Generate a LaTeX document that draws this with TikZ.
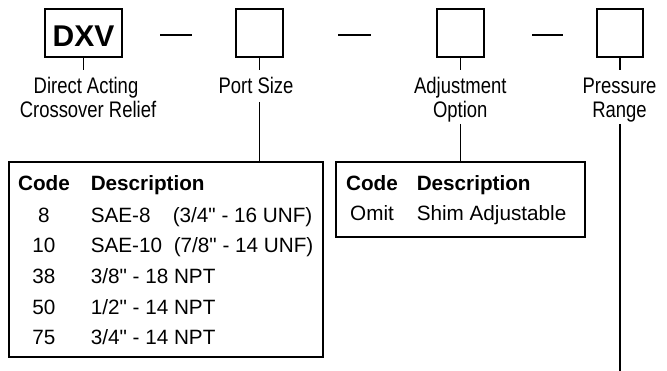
\documentclass[tikz,border=0pt]{standalone}
\usepackage{fontspec}
\setmainfont{Liberation Sans}[Ligatures=TeXOff]
\newfontfamily\condfont[FakeStretch=0.82]{Liberation Sans}
\begin{document}
\begin{tikzpicture}[x=1pt,y=-1pt,line width=1.5pt,
  codebox/.style={draw,line width=1.6pt,minimum width=47pt,minimum height=48pt,inner sep=0pt},
  lbl/.style={font=\condfont\fontsize{22.5}{27}\selectfont,anchor=base,inner sep=0pt},
  tbl/.style={draw,line width=1.5pt,inner sep=0pt},
  th/.style={font=\bfseries\fontsize{20.7}{24}\selectfont,inner sep=0pt,anchor=base},
  thl/.style={th,anchor=base west},
  td/.style={font=\fontsize{20.7}{24}\selectfont,inner sep=0pt,anchor=base},
  tdl/.style={td,anchor=base west}]
\useasboundingbox (0,0) rectangle (667,371);
% part boxes
\node[codebox,minimum width=77pt,font=\bfseries\fontsize{30}{34}\selectfont,text height=28pt,text depth=0pt] (dxv) at (83.5,33) {DXV};
\node[codebox] (ps) at (259.5,33) {};
\node[codebox] (adj) at (460.5,33) {};
\node[codebox,minimum width=46pt] (pr) at (620,33) {};
% dashes
\draw (160,35) -- (192,35);
\draw (338,35) -- (371,35);
\draw (532,35) -- (563,35);
% labels
\node[lbl] (l1a) at (86,93.5) {Direct Acting};
\node[lbl] (l1b) at (88,118) {Crossover Relief};
\node[lbl] (l2) at (256,93.5) {Port Size};
\node[lbl] (l3a) at (460.3,93.5) {Adjustment};
\node[lbl] (l3b) at (460.3,118) {Option};
\node[lbl] (l4a) at (619.5,93.5) {Pressure};
\node[lbl] (l4b) at (619.5,118) {Range};
% tables
\node[tbl,minimum width=314pt,minimum height=195pt] (t1) at (166,259.5) {};
\node[tbl,minimum width=249pt,minimum height=75pt] (t2) at (460.5,199.5) {};
\node[th] (t1h1) at (44,191) {Code};
\node[thl] (t1h2) at (90,191) {Description};
\node[td] (r1c) at (44,223) {8};
\node[tdl] (r1d) at (90,223) {SAE-8};
\node[tdl] (r1e) at (172,223) {(3/4" - 16 UNF)};
\node[td] (r2c) at (44,253) {10};
\node[tdl] (r2d) at (90,253) {SAE-10};
\node[tdl] (r2e) at (173,253) {(7/8" - 14 UNF)};
\node[td] (r3c) at (44,284) {38};
\node[tdl] (r3d) at (90,284) {3/8" - 18 NPT};
\node[td] (r4c) at (44,315) {50};
\node[tdl] (r4d) at (90,315) {1/2" - 14 NPT};
\node[td] (r5c) at (44,345) {75};
\node[tdl] (r5d) at (90,345) {3/4" - 14 NPT};
\node[th] (t2h1) at (372,191) {Code};
\node[thl] (t2h2) at (416,191) {Description};
\node[td] (s1c) at (372,221) {Omit};
\node[tdl] (s1d) at (416,221) {Shim Adjustable};
% connectors
\coordinate (e1) at (83.5,70);
\coordinate (e2) at (259.5,70);
\coordinate (e3) at (259.5,102);
\coordinate (e4) at (460.5,70);
\coordinate (e5) at (460.5,124);
\coordinate (e6) at (620,70);
\coordinate (e7) at (620,124);
\coordinate (e8) at (620,371);
\draw (dxv.south) -- (e1);
\draw (ps.south) -- (e2);
\draw (e3) -- (e3 |- t1.north);
\draw (adj.south) -- (e4);
\draw (e5) -- (e5 |- t2.north);
\draw (pr.south) -- (e6);
\draw (e7) -- (e8);
\end{tikzpicture}
\end{document}
